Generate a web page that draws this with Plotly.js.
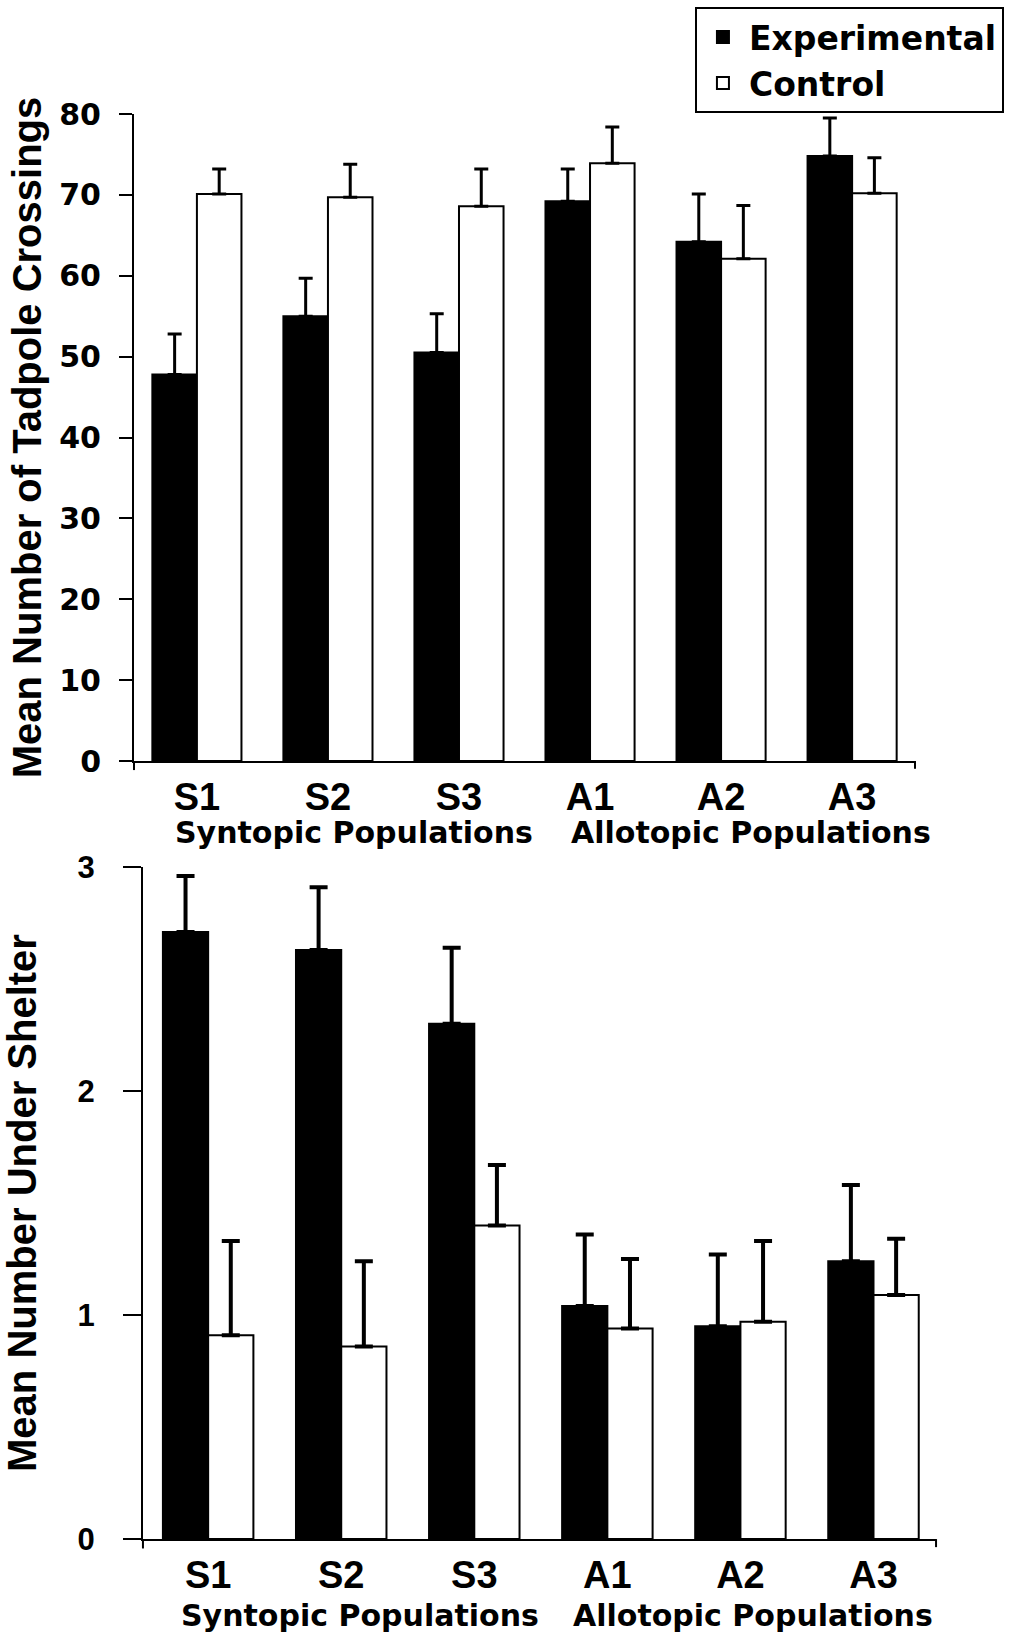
<!DOCTYPE html>
<html>
<head>
<meta charset="utf-8">
<script src="https://cdn.plot.ly/plotly-3.0.1.min.js"></script>
<style>
html,body{margin:0;padding:0;background:#fff;}
#chart{width:1016px;height:1638px;}
</style>
</head>
<body>
<div id="chart"></div>
<script>
// ---- Data ----
const categories = ["S1", "S2", "S3", "A1", "A2", "A3"];
const groupLabels = ["Syntopic Populations", "Allotopic Populations"];

// Panel 1: Mean Number of Tadpole Crossings
const crossExp = [47.8, 55.0, 50.5, 69.2, 64.2, 74.8];
const crossExpErr = [5.0, 4.7, 4.8, 4.0, 5.9, 4.7];
const crossCtrl = [70.1, 69.7, 68.6, 73.9, 62.1, 70.2];
const crossCtrlErr = [3.1, 4.1, 4.6, 4.5, 6.6, 4.4];

// Panel 2: Mean Number Under Shelter
const shelterExp = [2.71, 2.63, 2.30, 1.04, 0.95, 1.24];
const shelterExpErr = [0.25, 0.28, 0.34, 0.32, 0.32, 0.34];
const shelterCtrl = [0.91, 0.86, 1.40, 0.94, 0.97, 1.09];
const shelterCtrlErr = [0.42, 0.38, 0.27, 0.31, 0.36, 0.25];

const seriesNames = ["Experimental", "Control"];
// ---------------

const zeros = categories.map(() => 0);
function barTrace(name, y, err, fill, xa, ya, showLeg, thick, capw) {
  return {
    type: "bar", name: name, x: categories, y: y,
    xaxis: xa, yaxis: ya, legendgroup: name, showlegend: showLeg,
    marker: {color: fill, line: {color: "#000", width: 2}},
    error_y: {type: "data", symmetric: false, array: err, arrayminus: zeros,
              color: "#000", thickness: thick, width: capw},
    hoverinfo: "skip"
  };
}

const data = [
  barTrace(seriesNames[0], crossExp, crossExpErr, "#000", "x", "y", true, 3, 7),
  barTrace(seriesNames[1], crossCtrl, crossCtrlErr, "#fff", "x", "y", true, 3, 7),
  barTrace(seriesNames[0], shelterExp, shelterExpErr, "#000", "x2", "y2", false, 4, 9),
  barTrace(seriesNames[1], shelterCtrl, shelterCtrlErr, "#fff", "x2", "y2", false, 4, 9)
];

const DJ = "DejaVu Sans, Liberation Sans, Arial, sans-serif";
const LS = "Liberation Sans, Arial, sans-serif";
const LSN = "Liberation Sans Narrow, Arial Narrow, Liberation Sans, sans-serif";

const xCommon = {
  type: "category", showline: true, linecolor: "#000", linewidth: 2,
  ticks: "", showgrid: false, zeroline: false, fixedrange: true,
  tickfont: {family: LS, size: 38, color: "#000", weight: "bold"},
  ticklabelstandoff: 1
};
const yCommon = {
  showline: true, linecolor: "#000", linewidth: 2, ticks: "outside",
  tickwidth: 2, tickcolor: "#000", showgrid: false, zeroline: false, fixedrange: true
};

const layout = {
  width: 1016, height: 1638,
  margin: {l: 0, r: 0, t: 0, b: 0},
  paper_bgcolor: "#fff", plot_bgcolor: "#fff",
  barmode: "group", bargap: 0.32, bargroupgap: 0,
  showlegend: true,
  legend: {
    x: 0.684, y: 0.9957, xanchor: "left", yanchor: "top",
    bgcolor: "#fff", bordercolor: "#000", borderwidth: 2,
    font: {family: DJ, size: 33, color: "#000", weight: "bold"},
    traceorder: "normal", itemwidth: 42, tracegroupgap: 0
  },
  xaxis: Object.assign({}, xCommon, {domain: [0.1319, 0.9006], range: [-0.48, 5.48], anchor: "y"}),
  yaxis: Object.assign({}, yCommon, {
    domain: [0.5354, 0.9304], range: [0, 80], dtick: 10, ticklen: 13, anchor: "x",
    tickfont: {family: DJ, size: 30, color: "#000", weight: "bold"},
    ticklabelstandoff: 12,
    title: {text: "Mean Number of Tadpole Crossings", standoff: 5,
            font: {family: LS, size: 40, color: "#000", weight: "bold"}}
  }),
  xaxis2: Object.assign({}, xCommon, {domain: [0.1407, 0.9213], range: [-0.49, 5.47], anchor: "y2"}),
  yaxis2: Object.assign({}, yCommon, {
    domain: [0.0604, 0.4707], range: [0, 3], dtick: 1, ticklen: 18, anchor: "x2",
    tickfont: {family: LSN, size: 31, color: "#000", weight: "bold"},
    ticklabelstandoff: 22,
    title: {text: "Mean Number Under Shelter", standoff: 36,
            font: {family: LS, size: 40, color: "#000", weight: "bold"}}
  }),
  annotations: [
    {xref: "x", yref: "paper", x: -0.18, y: 0.492, xanchor: "left", yanchor: "middle",
     text: groupLabels[0], showarrow: false, font: {family: DJ, size: 30, color: "#000", weight: "bold"}},
    {xref: "x", yref: "paper", x: 2.84, y: 0.492, xanchor: "left", yanchor: "middle",
     text: groupLabels[1], showarrow: false, font: {family: DJ, size: 30, color: "#000", weight: "bold"}},
    {xref: "x2", yref: "paper", x: -0.22, y: 0.0135, xanchor: "left", yanchor: "middle",
     text: groupLabels[0], showarrow: false, font: {family: DJ, size: 30, color: "#000", weight: "bold"}},
    {xref: "x2", yref: "paper", x: 2.73, y: 0.0135, xanchor: "left", yanchor: "middle",
     text: groupLabels[1], showarrow: false, font: {family: DJ, size: 30, color: "#000", weight: "bold"}}
  ],
  shapes: [
    {type: "line", xref: "x domain", yref: "y domain", x0: 0, x1: 0, y0: 0, y1: -0.014, line: {color: "#000", width: 2}},
    {type: "line", xref: "x domain", yref: "y domain", x0: 1, x1: 1, y0: 0, y1: -0.012, line: {color: "#000", width: 2}},
    {type: "line", xref: "x2 domain", yref: "y2 domain", x0: 0, x1: 0, y0: 0, y1: -0.014, line: {color: "#000", width: 2}},
    {type: "line", xref: "x2 domain", yref: "y2 domain", x0: 1, x1: 1, y0: 0, y1: -0.012, line: {color: "#000", width: 2}}
  ]
};

Plotly.newPlot("chart", data, layout, {displayModeBar: false, staticPlot: true});
</script>
</body>
</html>
